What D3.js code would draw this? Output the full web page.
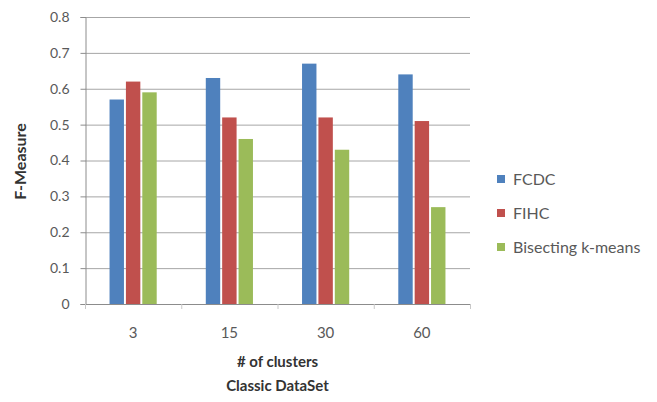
<!DOCTYPE html>
<html>
<head>
<meta charset="utf-8">
<script src="https://cdn.jsdelivr.net/npm/d3@7"></script>
<style>
  html, body { margin: 0; padding: 0; background: #fff; }
  svg { display: block; font-family: Lato, "Open Sans", sans-serif; }
</style>
</head>
<body>
<svg id="chart" width="657" height="402"></svg>
<script>
// F-Measure per number of clusters on the Classic dataset
const categories = ["3", "15", "30", "60"];
const seriesNames = ["FCDC", "FIHC", "Bisecting k-means"];
const fcdc = [0.57, 0.63, 0.67, 0.64];
const fihc = [0.62, 0.52, 0.52, 0.51];
const bisecting = [0.59, 0.46, 0.43, 0.27];
const yTicks = [0, 0.1, 0.2, 0.3, 0.4, 0.5, 0.6, 0.7, 0.8];
const colors = ["#4F81BD", "#C0504D", "#9BBB59"];

const series = [fcdc, fihc, bisecting];
const rows = categories.map((c, i) => ({
  cat: c,
  values: seriesNames.map((s, j) => ({ name: s, value: series[j][i], color: colors[j] }))
}));

const svg = d3.select("#chart");
const plot = { left: 85, right: 470, top: 17, bottom: 304 };

const x = d3.scaleBand().domain(categories).range([plot.left, plot.right]).paddingInner(0.51).paddingOuter(0.255);
const xInner = d3.scaleBand().domain(seriesNames).range([0, x.bandwidth()]).paddingInner(0.12);
const y = d3.scaleLinear().domain([0, 0.8]).range([plot.bottom, plot.top]);

// horizontal gridlines
svg.append("g")
  .selectAll("line")
  .data(yTicks.filter(d => d > 0))
  .join("line")
  .attr("x1", plot.left).attr("x2", plot.right)
  .attr("y1", d => y(d) + 0.5).attr("y2", d => y(d) + 0.5)
  .attr("stroke", "#a6a6a6").attr("stroke-width", 1);

// y axis
const yAxis = svg.append("g")
  .attr("transform", `translate(${plot.left + 0.5},0)`)
  .call(d3.axisLeft(y).tickValues(yTicks).tickFormat(d => d === 0 ? "0" : d3.format(".1f")(d)).tickSize(5).tickPadding(11));
yAxis.select(".domain").attr("stroke", "#8c8c8c");
yAxis.selectAll(".tick line").attr("stroke", "#8c8c8c");
yAxis.selectAll(".tick text").attr("fill", "#595959").attr("font-size", 14).attr("font-family", "Lato, sans-serif");

// bars
const groups = svg.append("g")
  .selectAll("g")
  .data(rows)
  .join("g")
  .attr("transform", d => `translate(${x(d.cat)},0)`);

groups.selectAll("rect")
  .data(d => d.values)
  .join("rect")
  .attr("x", d => xInner(d.name))
  .attr("width", xInner.bandwidth())
  .attr("y", d => y(d.value))
  .attr("height", d => y(0) - y(d.value))
  .attr("fill", d => d.color);

// x axis
const xAxis = svg.append("g")
  .attr("transform", `translate(0,${plot.bottom + 0.5})`)
  .call(d3.axisBottom(x).tickSize(0).tickPadding(23));
xAxis.select(".domain").attr("stroke", "#8c8c8c").attr("d", `M${plot.left},0H${plot.right}`);
xAxis.selectAll(".tick text").attr("fill", "#595959").attr("font-size", 15).attr("font-family", "Lato, sans-serif");

// category boundary ticks
const bounds = d3.range(categories.length + 1).map(i => plot.left + i * (plot.right - plot.left) / categories.length);
svg.append("g").selectAll("line").data(bounds).join("line")
  .attr("x1", d => d + 0.5).attr("x2", d => d + 0.5)
  .attr("y1", plot.bottom).attr("y2", plot.bottom + 5)
  .attr("stroke", "#c8c8c8");

// axis titles
svg.append("text")
  .attr("transform", `translate(26,${(plot.top + plot.bottom) / 2 + 1}) rotate(-90)`)
  .attr("text-anchor", "middle")
  .attr("font-size", 16).attr("font-weight", "bold").attr("fill", "#333")
  .text("F-Measure");

const xTitle = svg.append("text")
  .attr("text-anchor", "middle")
  .attr("font-size", 15).attr("font-weight", "bold").attr("fill", "#333");
xTitle.append("tspan").attr("x", (plot.left + plot.right) / 2).attr("y", 367).text("# of clusters");
xTitle.append("tspan").attr("x", (plot.left + plot.right) / 2).attr("y", 391).text("Classic DataSet");

// legend
const legend = svg.append("g").attr("transform", "translate(497,179)");
const items = legend.selectAll("g").data(seriesNames).join("g")
  .attr("transform", (d, i) => `translate(0,${i * 34})`);
items.append("rect").attr("x", 0).attr("y", -4).attr("width", 8).attr("height", 8)
  .attr("fill", (d, i) => colors[i]);
items.append("text").attr("x", 16).attr("y", 0).attr("dy", "0.35em")
  .attr("font-size", 16).attr("fill", "#595959")
  .text(d => d);
</script>
</body>
</html>
